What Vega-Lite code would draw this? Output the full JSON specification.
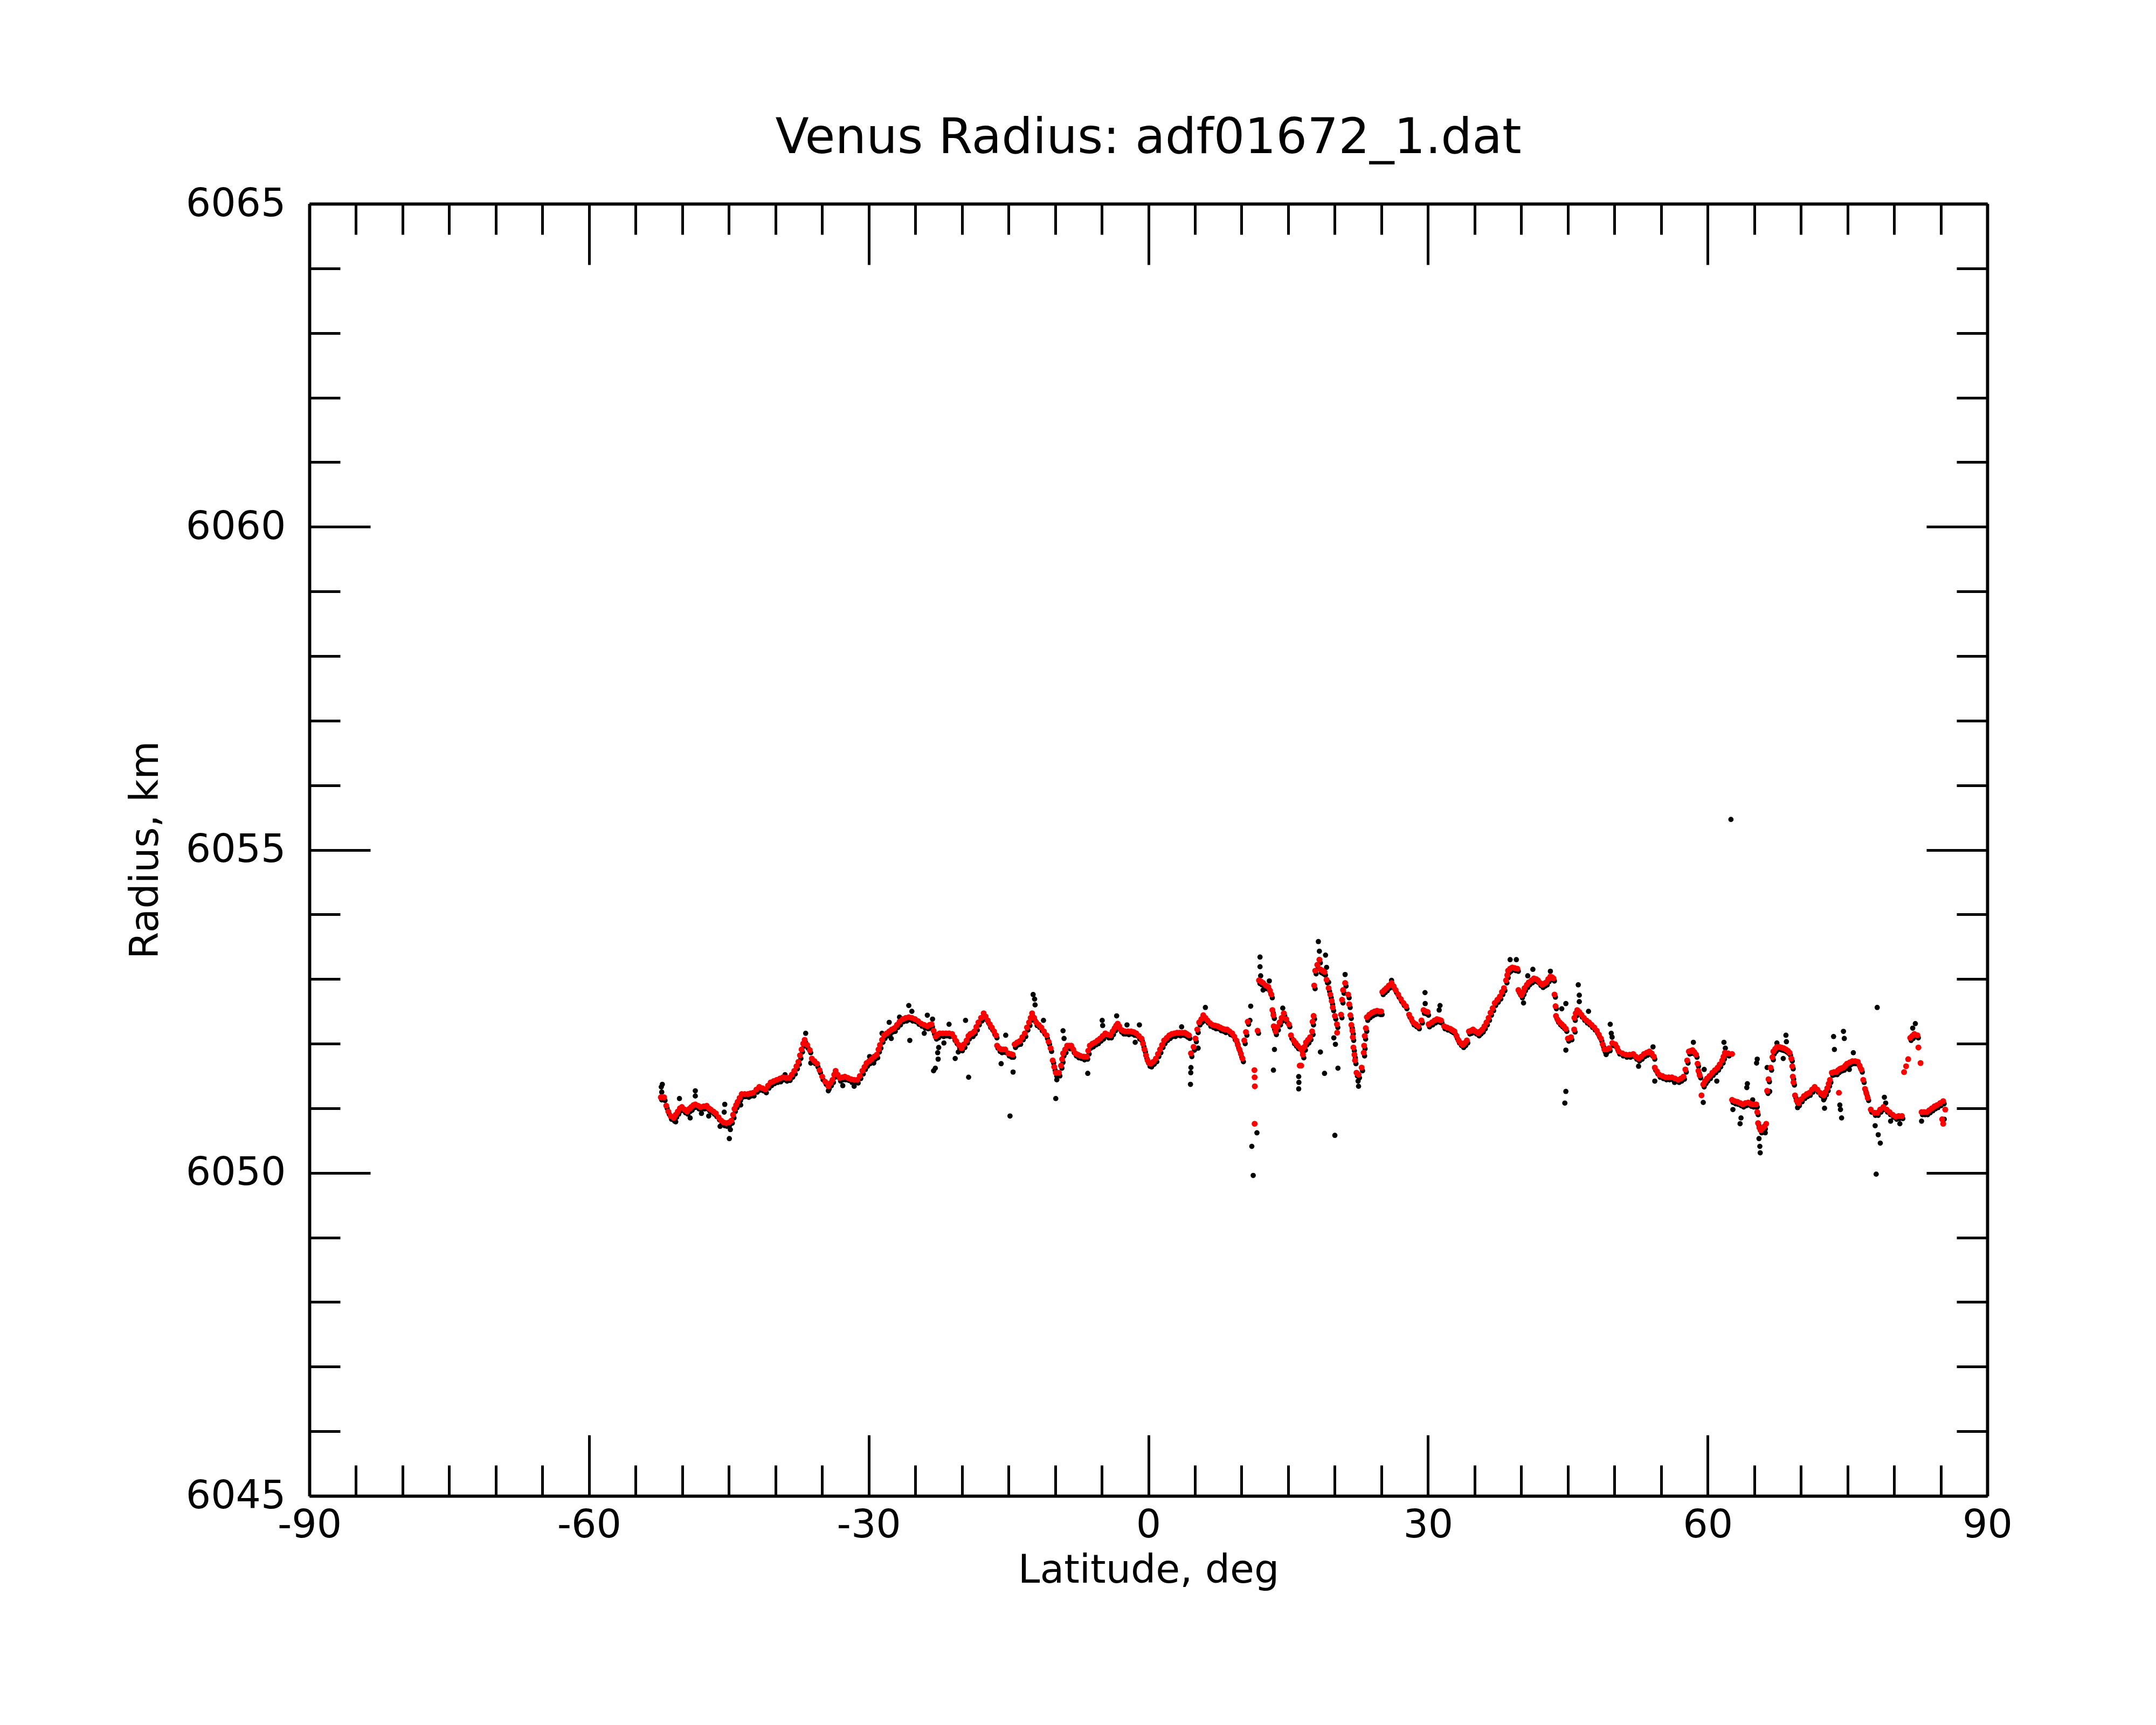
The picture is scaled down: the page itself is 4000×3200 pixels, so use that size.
{
  "$schema": "https://vega.github.io/schema/vega-lite/v6.json",
  "width": 3113,
  "height": 2397,
  "autosize": {"type": "none"},
  "padding": {"left": 574, "top": 378, "right": 313, "bottom": 425},
  "background": "white",
  "view": {"stroke": null},
  "title": {
    "text": "Venus Radius: adf01672_1.dat",
    "font": "DejaVu Sans",
    "fontSize": 91,
    "fontWeight": "normal",
    "color": "black",
    "anchor": "middle",
    "frame": "group",
    "baseline": "alphabetic",
    "offset": -33
  },
  "config": {
    "axis": {
      "grid": false,
      "domainColor": "black",
      "domainWidth": 5.5,
      "tickColor": "black",
      "tickWidth": 5,
      "labelFont": "DejaVu Sans",
      "labelFontSize": 73,
      "labelColor": "black",
      "labelLimit": 0,
      "labelOverlap": false,
      "labelFlush": false,
      "titleFont": "DejaVu Sans",
      "titleFontSize": 73,
      "titleFontWeight": "normal",
      "titleColor": "black"
    }
  },
  "datasets": {
    "smooth": [
      {"lat":-52.30,"radius":6051.17},{"lat":-51.95,"radius":6051.17},{"lat":-51.72,"radius":6051.04},{"lat":-51.50,"radius":6050.95},{"lat":-51.25,"radius":6050.88},{"lat":-50.92,"radius":6050.85},{"lat":-50.70,"radius":6050.90},{"lat":-50.48,"radius":6050.95},{"lat":-50.25,"radius":6051.00},{"lat":-50.04,"radius":6051.02},
      {"lat":-49.75,"radius":6050.98},{"lat":-49.49,"radius":6050.95},{"lat":-49.25,"radius":6050.99},{"lat":-49.04,"radius":6051.02},{"lat":-48.80,"radius":6051.05},{"lat":-48.60,"radius":6051.06},{"lat":-48.30,"radius":6051.04},{"lat":-48.05,"radius":6051.02},{"lat":-47.70,"radius":6051.03},{"lat":-47.38,"radius":6051.04},
      {"lat":-47.15,"radius":6051.00},{"lat":-46.94,"radius":6050.98},{"lat":-46.65,"radius":6050.95},{"lat":-46.39,"radius":6050.92},{"lat":-46.10,"radius":6050.86},{"lat":-45.83,"radius":6050.81},{"lat":-45.55,"radius":6050.78},{"lat":-45.28,"radius":6050.77},{"lat":-45.00,"radius":6050.78},{"lat":-44.73,"radius":6050.81},
      {"lat":-44.55,"radius":6050.90},{"lat":-44.40,"radius":6050.99},{"lat":-44.22,"radius":6051.05},{"lat":-44.06,"radius":6051.10},{"lat":-43.85,"radius":6051.16},{"lat":-43.62,"radius":6051.22},{"lat":-43.30,"radius":6051.22},{"lat":-42.96,"radius":6051.22},{"lat":-42.68,"radius":6051.23},{"lat":-42.40,"radius":6051.24},
      {"lat":-42.05,"radius":6051.29},{"lat":-41.74,"radius":6051.33},{"lat":-41.40,"radius":6051.31},{"lat":-41.08,"radius":6051.29},{"lat":-40.80,"radius":6051.35},{"lat":-40.52,"radius":6051.40},{"lat":-40.20,"radius":6051.42},{"lat":-39.86,"radius":6051.44},{"lat":-39.53,"radius":6051.46},{"lat":-39.20,"radius":6051.48},
      {"lat":-38.86,"radius":6051.47},{"lat":-38.53,"radius":6051.47},{"lat":-38.25,"radius":6051.52},{"lat":-37.98,"radius":6051.58},{"lat":-37.75,"radius":6051.65},{"lat":-37.54,"radius":6051.72},{"lat":-37.37,"radius":6051.82},{"lat":-37.20,"radius":6051.91},{"lat":-37.03,"radius":6052.00},{"lat":-36.87,"radius":6052.06},
      {"lat":-36.60,"radius":6051.98},{"lat":-36.32,"radius":6051.90},{"lat":-36.10,"radius":6051.77},{"lat":-35.82,"radius":6051.73},{"lat":-35.54,"radius":6051.69},{"lat":-35.27,"radius":6051.59},{"lat":-34.99,"radius":6051.49},{"lat":-34.66,"radius":6051.41},{"lat":-34.33,"radius":6051.34},{"lat":-34.10,"radius":6051.39},
      {"lat":-33.88,"radius":6051.44},{"lat":-33.70,"radius":6051.52},{"lat":-33.55,"radius":6051.58},{"lat":-33.33,"radius":6051.52},{"lat":-33.11,"radius":6051.47},{"lat":-32.83,"radius":6051.48},{"lat":-32.56,"radius":6051.49},{"lat":-32.22,"radius":6051.47},{"lat":-31.89,"radius":6051.45},{"lat":-31.56,"radius":6051.44},
      {"lat":-31.23,"radius":6051.44},{"lat":-30.95,"radius":6051.50},{"lat":-30.68,"radius":6051.58},{"lat":-30.45,"radius":6051.64},{"lat":-30.23,"radius":6051.70},{"lat":-29.95,"radius":6051.73},{"lat":-29.68,"radius":6051.76},{"lat":-29.40,"radius":6051.80},{"lat":-29.13,"radius":6051.83},{"lat":-28.95,"radius":6051.91},
      {"lat":-28.79,"radius":6051.98},{"lat":-28.57,"radius":6052.06},{"lat":-28.35,"radius":6052.13},{"lat":-28.07,"radius":6052.16},{"lat":-27.80,"radius":6052.19},{"lat":-27.52,"radius":6052.22},{"lat":-27.25,"radius":6052.24},{"lat":-26.97,"radius":6052.29},{"lat":-26.69,"radius":6052.34},{"lat":-26.35,"radius":6052.38},
      {"lat":-26.02,"radius":6052.40},{"lat":-25.70,"radius":6052.41},{"lat":-25.37,"radius":6052.40},{"lat":-25.03,"radius":6052.38},{"lat":-24.70,"radius":6052.35},{"lat":-24.37,"radius":6052.31},{"lat":-24.04,"radius":6052.29},{"lat":-23.71,"radius":6052.27},{"lat":-23.48,"radius":6052.29},{"lat":-23.26,"radius":6052.30},
      {"lat":-23.04,"radius":6052.20},{"lat":-22.82,"radius":6052.11},{"lat":-22.60,"radius":6052.14},{"lat":-22.38,"radius":6052.16},{"lat":-22.05,"radius":6052.16},{"lat":-21.71,"radius":6052.16},{"lat":-21.38,"radius":6052.16},{"lat":-21.05,"radius":6052.15},{"lat":-20.83,"radius":6052.10},{"lat":-20.61,"radius":6052.04},
      {"lat":-20.33,"radius":6051.98},{"lat":-20.05,"radius":6051.93},{"lat":-19.78,"radius":6051.99},{"lat":-19.50,"radius":6052.05},{"lat":-19.30,"radius":6052.12},{"lat":-19.10,"radius":6052.15},{"lat":-18.90,"radius":6052.16},{"lat":-18.67,"radius":6052.19},{"lat":-18.45,"radius":6052.26},{"lat":-18.23,"radius":6052.33},
      {"lat":-17.95,"radius":6052.40},{"lat":-17.67,"radius":6052.47},{"lat":-17.45,"radius":6052.42},{"lat":-17.23,"radius":6052.36},{"lat":-17.01,"radius":6052.30},{"lat":-16.79,"radius":6052.25},{"lat":-16.55,"radius":6052.19},{"lat":-16.34,"radius":6052.13},{"lat":-16.23,"radius":6051.97},{"lat":-16.00,"radius":6051.93},
      {"lat":-15.79,"radius":6051.91},{"lat":-15.57,"radius":6051.91},{"lat":-15.35,"radius":6051.91},{"lat":-15.02,"radius":6051.85},{"lat":-14.75,"radius":6051.84},{"lat":-14.55,"radius":6051.83},{"lat":-14.35,"radius":6051.99},{"lat":-14.07,"radius":6052.02},{"lat":-13.80,"radius":6052.04},{"lat":-13.52,"radius":6052.10},
      {"lat":-13.25,"radius":6052.16},{"lat":-13.02,"radius":6052.25},{"lat":-12.80,"radius":6052.33},{"lat":-12.63,"radius":6052.40},{"lat":-12.47,"radius":6052.47},{"lat":-12.25,"radius":6052.40},{"lat":-12.03,"radius":6052.33},{"lat":-11.75,"radius":6052.29},{"lat":-11.48,"radius":6052.25},{"lat":-11.20,"radius":6052.19},
      {"lat":-10.92,"radius":6052.13},{"lat":-10.70,"radius":6052.03},{"lat":-10.48,"radius":6051.93},{"lat":-10.26,"radius":6051.74},{"lat":-10.10,"radius":6051.64},{"lat":-9.93,"radius":6051.55},{"lat":-9.76,"radius":6051.55},{"lat":-9.59,"radius":6051.55},{"lat":-9.37,"radius":6051.66},{"lat":-9.25,"radius":6051.76},
      {"lat":-9.15,"radius":6051.85},{"lat":-8.93,"radius":6051.91},{"lat":-8.71,"radius":6051.97},{"lat":-8.49,"radius":6051.97},{"lat":-8.27,"radius":6051.97},{"lat":-8.05,"radius":6051.91},{"lat":-7.82,"radius":6051.85},{"lat":-7.55,"radius":6051.83},{"lat":-7.27,"radius":6051.81},{"lat":-6.94,"radius":6051.80},
      {"lat":-6.61,"radius":6051.80},{"lat":-6.45,"radius":6051.89},{"lat":-6.28,"radius":6051.97},{"lat":-6.00,"radius":6052.00},{"lat":-5.72,"radius":6052.02},{"lat":-5.45,"radius":6052.05},{"lat":-5.17,"radius":6052.08},{"lat":-4.90,"radius":6052.12},{"lat":-4.62,"radius":6052.16},{"lat":-4.34,"radius":6052.14},
      {"lat":-4.06,"radius":6052.13},{"lat":-3.84,"radius":6052.19},{"lat":-3.62,"radius":6052.24},{"lat":-3.45,"radius":6052.28},{"lat":-3.29,"radius":6052.31},{"lat":-3.12,"radius":6052.27},{"lat":-2.96,"radius":6052.22},{"lat":-2.73,"radius":6052.20},{"lat":-2.51,"radius":6052.19},{"lat":-2.18,"radius":6052.19},
      {"lat":-1.85,"radius":6052.19},{"lat":-1.57,"radius":6052.18},{"lat":-1.30,"radius":6052.16},{"lat":-1.02,"radius":6052.12},{"lat":-0.74,"radius":6052.08},{"lat":-0.57,"radius":6052.00},{"lat":-0.41,"radius":6051.91},{"lat":-0.25,"radius":6051.82},{"lat":-0.08,"radius":6051.74},{"lat":0.08,"radius":6051.70},
      {"lat":0.25,"radius":6051.69},{"lat":0.53,"radius":6051.72},{"lat":0.81,"radius":6051.77},{"lat":1.03,"radius":6051.84},{"lat":1.25,"radius":6051.91},{"lat":1.47,"radius":6051.98},{"lat":1.69,"radius":6052.05},{"lat":1.97,"radius":6052.09},{"lat":2.25,"radius":6052.13},{"lat":2.52,"radius":6052.15},
      {"lat":2.80,"radius":6052.16},{"lat":3.08,"radius":6052.17},{"lat":3.35,"radius":6052.17},{"lat":3.63,"radius":6052.17},{"lat":3.91,"radius":6052.17},{"lat":4.13,"radius":6052.15},{"lat":4.35,"radius":6052.13},{"lat":4.57,"radius":6051.85},{"lat":4.85,"radius":6051.95},{"lat":5.05,"radius":6052.08},
      {"lat":5.25,"radius":6052.22},{"lat":5.45,"radius":6052.33},{"lat":5.68,"radius":6052.38},{"lat":5.89,"radius":6052.44},{"lat":6.12,"radius":6052.40},{"lat":6.34,"radius":6052.36},{"lat":6.60,"radius":6052.32},{"lat":6.89,"radius":6052.29},{"lat":7.17,"radius":6052.28},{"lat":7.45,"radius":6052.27},
      {"lat":7.72,"radius":6052.25},{"lat":8.00,"radius":6052.23},{"lat":8.22,"radius":6052.22},{"lat":8.44,"radius":6052.22},{"lat":8.72,"radius":6052.19},{"lat":9.00,"radius":6052.16},{"lat":9.22,"radius":6052.11},{"lat":9.44,"radius":6052.05},{"lat":9.60,"radius":6051.98},{"lat":9.77,"radius":6051.91},
      {"lat":9.93,"radius":6051.84},{"lat":10.10,"radius":6051.77},{"lat":10.29,"radius":6052.05},{"lat":10.47,"radius":6052.18},{"lat":10.66,"radius":6052.34},{"lat":11.38,"radius":6051.59},{"lat":11.40,"radius":6051.48},{"lat":11.42,"radius":6051.34},{"lat":11.40,"radius":6050.76},{"lat":11.72,"radius":6052.20},
      {"lat":11.87,"radius":6052.98},{"lat":12.10,"radius":6052.96},{"lat":12.31,"radius":6052.94},{"lat":12.60,"radius":6052.90},{"lat":12.87,"radius":6052.88},{"lat":13.05,"radius":6052.82},{"lat":13.20,"radius":6052.76},{"lat":13.31,"radius":6052.52},{"lat":13.42,"radius":6052.44},{"lat":13.45,"radius":6052.27},
      {"lat":13.64,"radius":6052.19},{"lat":13.85,"radius":6052.26},{"lat":14.08,"radius":6052.33},{"lat":14.30,"radius":6052.40},{"lat":14.53,"radius":6052.47},{"lat":14.80,"radius":6052.38},{"lat":15.08,"radius":6052.30},{"lat":15.30,"radius":6052.13},{"lat":15.58,"radius":6052.05},{"lat":15.80,"radius":6052.01},
      {"lat":16.02,"radius":6051.97},{"lat":16.24,"radius":6051.66},{"lat":16.40,"radius":6051.66},{"lat":16.30,"radius":6051.93},{"lat":16.47,"radius":6051.90},{"lat":16.58,"radius":6051.83},{"lat":16.75,"radius":6051.95},{"lat":16.91,"radius":6052.02},{"lat":17.13,"radius":6052.06},{"lat":17.35,"radius":6052.10},
      {"lat":17.57,"radius":6052.19},{"lat":17.62,"radius":6052.34},{"lat":17.73,"radius":6052.43},{"lat":17.79,"radius":6052.90},{"lat":17.90,"radius":6053.13},{"lat":18.12,"radius":6053.22},{"lat":18.35,"radius":6053.30},{"lat":18.46,"radius":6053.15},{"lat":18.68,"radius":6053.13},{"lat":18.90,"radius":6053.11},
      {"lat":19.12,"radius":6052.99},{"lat":19.34,"radius":6052.86},{"lat":19.52,"radius":6052.76},{"lat":19.67,"radius":6052.66},{"lat":19.78,"radius":6052.56},{"lat":20.01,"radius":6052.43},{"lat":20.23,"radius":6052.30},{"lat":20.25,"radius":6052.17},{"lat":20.67,"radius":6052.45},{"lat":20.78,"radius":6052.68},
      {"lat":20.89,"radius":6052.83},{"lat":21.11,"radius":6052.94},{"lat":21.44,"radius":6052.76},{"lat":21.55,"radius":6052.61},{"lat":21.67,"radius":6052.44},{"lat":21.78,"radius":6052.29},{"lat":21.89,"radius":6052.20},{"lat":21.93,"radius":6052.10},{"lat":22.00,"radius":6051.94},{"lat":22.11,"radius":6051.83},
      {"lat":22.17,"radius":6051.74},{"lat":22.33,"radius":6051.55},{"lat":22.55,"radius":6051.52},{"lat":22.88,"radius":6051.63},{"lat":23.10,"radius":6051.86},{"lat":23.15,"radius":6051.97},{"lat":23.21,"radius":6052.12},{"lat":23.33,"radius":6052.24},{"lat":23.44,"radius":6052.41},{"lat":23.70,"radius":6052.45},
      {"lat":23.99,"radius":6052.48},{"lat":24.27,"radius":6052.50},{"lat":24.54,"radius":6052.51},{"lat":24.80,"radius":6052.50},{"lat":24.98,"radius":6052.50},{"lat":25.10,"radius":6052.80},{"lat":25.32,"radius":6052.83},{"lat":25.54,"radius":6052.86},{"lat":25.80,"radius":6052.90},{"lat":26.09,"radius":6052.94},
      {"lat":26.31,"radius":6052.89},{"lat":26.53,"radius":6052.83},{"lat":26.80,"radius":6052.76},{"lat":27.09,"radius":6052.69},{"lat":27.36,"radius":6052.63},{"lat":27.64,"radius":6052.58},{"lat":27.97,"radius":6052.45},{"lat":28.20,"radius":6052.39},{"lat":28.41,"radius":6052.33},{"lat":28.70,"radius":6052.30},
      {"lat":28.97,"radius":6052.27},{"lat":29.30,"radius":6052.36},{"lat":29.52,"radius":6052.52},{"lat":29.75,"radius":6052.50},{"lat":29.96,"radius":6052.49},{"lat":30.07,"radius":6052.30},{"lat":30.41,"radius":6052.33},{"lat":30.70,"radius":6052.36},{"lat":30.96,"radius":6052.38},{"lat":31.20,"radius":6052.37},
      {"lat":31.40,"radius":6052.36},{"lat":31.73,"radius":6052.27},{"lat":32.05,"radius":6052.25},{"lat":32.40,"radius":6052.23},{"lat":32.62,"radius":6052.21},{"lat":32.84,"radius":6052.19},{"lat":33.06,"radius":6052.12},{"lat":33.28,"radius":6052.05},{"lat":33.50,"radius":6052.01},{"lat":33.73,"radius":6051.98},
      {"lat":33.95,"radius":6052.01},{"lat":34.17,"radius":6052.05},{"lat":34.39,"radius":6052.19},{"lat":34.60,"radius":6052.20},{"lat":34.83,"radius":6052.22},{"lat":35.10,"radius":6052.19},{"lat":35.39,"radius":6052.16},{"lat":35.60,"radius":6052.19},{"lat":35.83,"radius":6052.22},{"lat":36.05,"radius":6052.27},
      {"lat":36.27,"radius":6052.33},{"lat":36.50,"radius":6052.40},{"lat":36.71,"radius":6052.48},{"lat":36.94,"radius":6052.55},{"lat":37.16,"radius":6052.63},{"lat":37.44,"radius":6052.68},{"lat":37.71,"radius":6052.73},{"lat":37.93,"radius":6052.80},{"lat":38.15,"radius":6052.86},{"lat":38.37,"radius":6052.98},
      {"lat":38.50,"radius":6053.06},{"lat":38.59,"radius":6053.13},{"lat":38.80,"radius":6053.16},{"lat":39.04,"radius":6053.18},{"lat":39.30,"radius":6053.17},{"lat":39.59,"radius":6053.16},{"lat":39.70,"radius":6052.83},{"lat":39.85,"radius":6052.79},{"lat":40.03,"radius":6052.75},{"lat":40.20,"radius":6052.80},
      {"lat":40.36,"radius":6052.86},{"lat":40.60,"radius":6052.91},{"lat":40.81,"radius":6052.95},{"lat":41.10,"radius":6052.98},{"lat":41.36,"radius":6053.01},{"lat":41.60,"radius":6053.00},{"lat":41.80,"radius":6052.98},{"lat":42.02,"radius":6052.94},{"lat":42.25,"radius":6052.91},{"lat":42.47,"radius":6052.93},
      {"lat":42.69,"radius":6052.95},{"lat":42.90,"radius":6053.00},{"lat":43.13,"radius":6053.04},{"lat":43.30,"radius":6053.03},{"lat":43.46,"radius":6053.01},{"lat":43.57,"radius":6052.76},{"lat":43.68,"radius":6052.58},{"lat":43.73,"radius":6052.43},{"lat":43.91,"radius":6052.37},{"lat":44.13,"radius":6052.33},
      {"lat":44.35,"radius":6052.30},{"lat":44.57,"radius":6052.27},{"lat":44.79,"radius":6052.23},{"lat":45.01,"radius":6052.08},{"lat":45.34,"radius":6052.10},{"lat":45.68,"radius":6052.22},{"lat":45.70,"radius":6052.40},{"lat":45.85,"radius":6052.47},{"lat":46.01,"radius":6052.52},{"lat":46.23,"radius":6052.49},
      {"lat":46.45,"radius":6052.45},{"lat":46.72,"radius":6052.40},{"lat":47.00,"radius":6052.36},{"lat":47.28,"radius":6052.33},{"lat":47.56,"radius":6052.29},{"lat":47.84,"radius":6052.25},{"lat":48.11,"radius":6052.20},{"lat":48.33,"radius":6052.14},{"lat":48.55,"radius":6052.08},{"lat":48.74,"radius":6051.99},
      {"lat":48.92,"radius":6051.91},{"lat":49.15,"radius":6051.91},{"lat":49.44,"radius":6051.93},{"lat":49.77,"radius":6052.01},{"lat":50.09,"radius":6051.99},{"lat":50.28,"radius":6051.94},{"lat":50.47,"radius":6051.88},{"lat":50.85,"radius":6051.85},{"lat":51.24,"radius":6051.83},{"lat":51.63,"radius":6051.83},
      {"lat":52.02,"radius":6051.84},{"lat":52.30,"radius":6051.80},{"lat":52.59,"radius":6051.77},{"lat":52.88,"radius":6051.80},{"lat":53.17,"radius":6051.84},{"lat":53.46,"radius":6051.86},{"lat":53.75,"radius":6051.88},{"lat":54.00,"radius":6051.85},{"lat":54.23,"radius":6051.80},{"lat":54.33,"radius":6051.63},
      {"lat":54.57,"radius":6051.57},{"lat":54.81,"radius":6051.52},{"lat":55.15,"radius":6051.50},{"lat":55.49,"radius":6051.48},{"lat":55.82,"radius":6051.48},{"lat":56.16,"radius":6051.48},{"lat":56.50,"radius":6051.46},{"lat":56.84,"radius":6051.44},{"lat":57.12,"radius":6051.46},{"lat":57.41,"radius":6051.49},
      {"lat":57.61,"radius":6051.60},{"lat":57.80,"radius":6051.74},{"lat":57.99,"radius":6051.88},{"lat":58.20,"radius":6051.89},{"lat":58.38,"radius":6051.90},{"lat":58.57,"radius":6051.87},{"lat":58.76,"radius":6051.83},{"lat":58.92,"radius":6051.69},{"lat":59.01,"radius":6051.58},{"lat":59.15,"radius":6051.51},
      {"lat":59.34,"radius":6051.20},{"lat":59.53,"radius":6051.37},{"lat":59.72,"radius":6051.42},{"lat":59.92,"radius":6051.46},{"lat":60.20,"radius":6051.50},{"lat":60.50,"radius":6051.55},{"lat":60.78,"radius":6051.59},{"lat":61.07,"radius":6051.63},{"lat":61.30,"radius":6051.68},{"lat":61.56,"radius":6051.74},
      {"lat":61.70,"radius":6051.80},{"lat":61.85,"radius":6051.86},{"lat":62.20,"radius":6051.85},{"lat":62.62,"radius":6051.84},{"lat":62.62,"radius":6051.13},{"lat":62.90,"radius":6051.11},{"lat":63.20,"radius":6051.10},{"lat":63.50,"radius":6051.08},{"lat":63.77,"radius":6051.06},{"lat":64.05,"radius":6051.08},
      {"lat":64.35,"radius":6051.09},{"lat":64.60,"radius":6051.07},{"lat":64.83,"radius":6051.06},{"lat":65.05,"radius":6051.06},{"lat":65.22,"radius":6051.06},{"lat":65.32,"radius":6050.94},{"lat":65.41,"radius":6050.77},{"lat":65.55,"radius":6050.70},{"lat":65.70,"radius":6050.66},{"lat":65.90,"radius":6050.69},
      {"lat":66.09,"radius":6050.72},{"lat":66.28,"radius":6050.76},{"lat":66.38,"radius":6051.27},{"lat":66.53,"radius":6051.45},{"lat":66.76,"radius":6051.63},{"lat":66.95,"radius":6051.79},{"lat":67.05,"radius":6051.88},{"lat":67.25,"radius":6051.92},{"lat":67.43,"radius":6051.95},{"lat":67.68,"radius":6051.95},
      {"lat":67.92,"radius":6051.94},{"lat":68.16,"radius":6051.93},{"lat":68.40,"radius":6051.91},{"lat":68.60,"radius":6051.89},{"lat":68.79,"radius":6051.86},{"lat":68.98,"radius":6051.77},{"lat":69.08,"radius":6051.65},{"lat":69.13,"radius":6051.49},{"lat":69.21,"radius":6051.40},{"lat":69.37,"radius":6051.20},
      {"lat":69.55,"radius":6051.12},{"lat":69.75,"radius":6051.08},{"lat":70.04,"radius":6051.14},{"lat":70.33,"radius":6051.19},{"lat":70.62,"radius":6051.22},{"lat":70.91,"radius":6051.24},{"lat":71.20,"radius":6051.29},{"lat":71.48,"radius":6051.33},{"lat":71.77,"radius":6051.29},{"lat":72.06,"radius":6051.24},
      {"lat":72.25,"radius":6051.22},{"lat":72.45,"radius":6051.20},{"lat":72.64,"radius":6051.25},{"lat":72.83,"radius":6051.31},{"lat":72.98,"radius":6051.38},{"lat":73.12,"radius":6051.44},{"lat":73.32,"radius":6051.55},{"lat":73.56,"radius":6051.56},{"lat":73.80,"radius":6051.56},{"lat":74.00,"radius":6051.59},
      {"lat":74.18,"radius":6051.61},{"lat":74.37,"radius":6051.62},{"lat":74.57,"radius":6051.63},{"lat":74.76,"radius":6051.66},{"lat":74.95,"radius":6051.69},{"lat":75.24,"radius":6051.71},{"lat":75.53,"radius":6051.73},{"lat":75.82,"radius":6051.73},{"lat":76.11,"radius":6051.72},{"lat":76.30,"radius":6051.66},
      {"lat":76.49,"radius":6051.60},{"lat":76.69,"radius":6051.44},{"lat":76.88,"radius":6051.30},{"lat":77.03,"radius":6051.23},{"lat":77.17,"radius":6051.16},{"lat":74.08,"radius":6051.24},{"lat":77.50,"radius":6050.98},{"lat":77.90,"radius":6050.93},{"lat":78.20,"radius":6050.93},{"lat":78.50,"radius":6050.98},
      {"lat":78.85,"radius":6051.02},{"lat":79.20,"radius":6050.98},{"lat":79.52,"radius":6050.94},{"lat":79.85,"radius":6050.90},{"lat":80.18,"radius":6050.87},{"lat":80.50,"radius":6050.88},{"lat":80.84,"radius":6050.88},{"lat":81.07,"radius":6051.56},{"lat":81.29,"radius":6051.65},{"lat":81.51,"radius":6051.76},
      {"lat":81.73,"radius":6052.09},{"lat":81.95,"radius":6052.12},{"lat":82.17,"radius":6052.15},{"lat":82.50,"radius":6052.13},{"lat":82.61,"radius":6051.94},{"lat":82.84,"radius":6051.70},{"lat":82.95,"radius":6050.94},{"lat":83.22,"radius":6050.94},{"lat":83.50,"radius":6050.94},{"lat":83.78,"radius":6050.97},
      {"lat":84.05,"radius":6051.00},{"lat":84.33,"radius":6051.03},{"lat":84.61,"radius":6051.05},{"lat":84.94,"radius":6051.08},{"lat":85.27,"radius":6051.11},{"lat":85.49,"radius":6050.98},{"lat":85.16,"radius":6050.83},{"lat":85.27,"radius":6050.76}
    ],
    "raw": [
      {"lat":-52.20,"radius":6051.13},{"lat":-51.85,"radius":6051.12},{"lat":-51.62,"radius":6051.00},{"lat":-51.40,"radius":6050.91},{"lat":-51.15,"radius":6050.83},{"lat":-50.82,"radius":6050.80},{"lat":-50.60,"radius":6050.86},{"lat":-50.38,"radius":6050.91},{"lat":-50.15,"radius":6050.96},{"lat":-49.94,"radius":6050.97},
      {"lat":-49.65,"radius":6050.93},{"lat":-49.39,"radius":6050.91},{"lat":-49.15,"radius":6050.95},{"lat":-48.94,"radius":6050.97},{"lat":-48.70,"radius":6051.01},{"lat":-48.50,"radius":6051.02},{"lat":-48.20,"radius":6050.99},{"lat":-47.95,"radius":6050.98},{"lat":-47.60,"radius":6050.99},{"lat":-47.28,"radius":6050.99},
      {"lat":-47.05,"radius":6050.96},{"lat":-46.84,"radius":6050.94},{"lat":-46.55,"radius":6050.91},{"lat":-46.29,"radius":6050.87},{"lat":-46.00,"radius":6050.82},{"lat":-45.73,"radius":6050.76},{"lat":-45.45,"radius":6050.73},{"lat":-45.18,"radius":6050.72},{"lat":-44.90,"radius":6050.74},{"lat":-44.63,"radius":6050.77},
      {"lat":-44.45,"radius":6050.85},{"lat":-44.30,"radius":6050.95},{"lat":-44.12,"radius":6051.01},{"lat":-43.96,"radius":6051.05},{"lat":-43.75,"radius":6051.12},{"lat":-43.52,"radius":6051.17},{"lat":-43.20,"radius":6051.18},{"lat":-42.86,"radius":6051.17},{"lat":-42.58,"radius":6051.19},{"lat":-42.30,"radius":6051.19},
      {"lat":-41.95,"radius":6051.25},{"lat":-41.64,"radius":6051.28},{"lat":-41.30,"radius":6051.27},{"lat":-40.98,"radius":6051.24},{"lat":-40.70,"radius":6051.31},{"lat":-40.42,"radius":6051.35},{"lat":-40.10,"radius":6051.38},{"lat":-39.76,"radius":6051.40},{"lat":-39.43,"radius":6051.41},{"lat":-39.10,"radius":6051.44},
      {"lat":-38.76,"radius":6051.42},{"lat":-38.43,"radius":6051.43},{"lat":-38.15,"radius":6051.48},{"lat":-37.88,"radius":6051.53},{"lat":-37.65,"radius":6051.61},{"lat":-37.44,"radius":6051.68},{"lat":-37.27,"radius":6051.77},{"lat":-37.10,"radius":6051.87},{"lat":-36.93,"radius":6051.96},{"lat":-36.77,"radius":6052.02},
      {"lat":-36.50,"radius":6051.93},{"lat":-36.22,"radius":6051.86},{"lat":-36.00,"radius":6051.72},{"lat":-35.72,"radius":6051.69},{"lat":-35.44,"radius":6051.64},{"lat":-35.17,"radius":6051.55},{"lat":-34.89,"radius":6051.44},{"lat":-34.56,"radius":6051.37},{"lat":-34.23,"radius":6051.30},{"lat":-34.00,"radius":6051.35},
      {"lat":-33.78,"radius":6051.40},{"lat":-33.60,"radius":6051.48},{"lat":-33.45,"radius":6051.53},{"lat":-33.23,"radius":6051.48},{"lat":-33.01,"radius":6051.42},{"lat":-32.73,"radius":6051.44},{"lat":-32.46,"radius":6051.44},{"lat":-32.12,"radius":6051.43},{"lat":-31.79,"radius":6051.40},{"lat":-31.46,"radius":6051.40},
      {"lat":-31.13,"radius":6051.39},{"lat":-30.85,"radius":6051.46},{"lat":-30.58,"radius":6051.53},{"lat":-30.35,"radius":6051.60},{"lat":-30.13,"radius":6051.65},{"lat":-29.85,"radius":6051.69},{"lat":-29.58,"radius":6051.71},{"lat":-29.30,"radius":6051.76},{"lat":-29.03,"radius":6051.78},{"lat":-28.85,"radius":6051.87},
      {"lat":-28.69,"radius":6051.93},{"lat":-28.47,"radius":6052.02},{"lat":-28.25,"radius":6052.08},{"lat":-27.97,"radius":6052.12},{"lat":-27.70,"radius":6052.14},{"lat":-27.42,"radius":6052.18},{"lat":-27.15,"radius":6052.19},{"lat":-26.87,"radius":6052.25},{"lat":-26.59,"radius":6052.29},{"lat":-26.25,"radius":6052.34},
      {"lat":-25.92,"radius":6052.35},{"lat":-25.60,"radius":6052.37},{"lat":-25.27,"radius":6052.35},{"lat":-24.93,"radius":6052.34},{"lat":-24.60,"radius":6052.30},{"lat":-24.27,"radius":6052.27},{"lat":-23.94,"radius":6052.24},{"lat":-23.61,"radius":6052.23},{"lat":-23.38,"radius":6052.24},{"lat":-23.16,"radius":6052.26},
      {"lat":-22.94,"radius":6052.15},{"lat":-22.72,"radius":6052.07},{"lat":-22.50,"radius":6052.09},{"lat":-22.28,"radius":6052.12},{"lat":-21.95,"radius":6052.11},{"lat":-21.61,"radius":6052.12},{"lat":-21.28,"radius":6052.11},{"lat":-20.95,"radius":6052.11},{"lat":-20.73,"radius":6052.05},{"lat":-20.51,"radius":6052.00},
      {"lat":-20.23,"radius":6051.93},{"lat":-19.95,"radius":6051.89},{"lat":-19.68,"radius":6051.94},{"lat":-19.40,"radius":6052.01},{"lat":-19.20,"radius":6052.07},{"lat":-19.00,"radius":6052.11},{"lat":-18.80,"radius":6052.11},{"lat":-18.57,"radius":6052.15},{"lat":-18.35,"radius":6052.21},{"lat":-18.13,"radius":6052.29},
      {"lat":-17.85,"radius":6052.35},{"lat":-17.57,"radius":6052.43},{"lat":-17.35,"radius":6052.37},{"lat":-17.13,"radius":6052.32},{"lat":-16.91,"radius":6052.25},{"lat":-16.69,"radius":6052.21},{"lat":-16.45,"radius":6052.14},{"lat":-16.24,"radius":6052.09},{"lat":-16.13,"radius":6051.93},{"lat":-15.90,"radius":6051.88},
      {"lat":-15.69,"radius":6051.86},{"lat":-15.47,"radius":6051.87},{"lat":-15.25,"radius":6051.86},{"lat":-14.92,"radius":6051.81},{"lat":-14.65,"radius":6051.79},{"lat":-14.45,"radius":6051.79},{"lat":-14.25,"radius":6051.94},{"lat":-13.97,"radius":6051.98},{"lat":-13.70,"radius":6051.99},{"lat":-13.42,"radius":6052.06},
      {"lat":-13.15,"radius":6052.11},{"lat":-12.92,"radius":6052.21},{"lat":-12.70,"radius":6052.28},{"lat":-12.53,"radius":6052.36},{"lat":-12.37,"radius":6052.42},{"lat":-12.15,"radius":6052.36},{"lat":-11.93,"radius":6052.28},{"lat":-11.65,"radius":6052.25},{"lat":-11.38,"radius":6052.20},{"lat":-11.10,"radius":6052.15},
      {"lat":-10.82,"radius":6052.08},{"lat":-10.60,"radius":6051.99},{"lat":-10.38,"radius":6051.88},{"lat":-10.16,"radius":6051.70},{"lat":-10.00,"radius":6051.59},{"lat":-9.83,"radius":6051.50},{"lat":-9.66,"radius":6051.51},{"lat":-9.49,"radius":6051.50},{"lat":-9.27,"radius":6051.62},{"lat":-9.15,"radius":6051.71},
      {"lat":-9.05,"radius":6051.81},{"lat":-8.83,"radius":6051.86},{"lat":-8.61,"radius":6051.93},{"lat":-8.39,"radius":6051.92},{"lat":-8.17,"radius":6051.93},{"lat":-7.95,"radius":6051.86},{"lat":-7.72,"radius":6051.81},{"lat":-7.45,"radius":6051.78},{"lat":-7.17,"radius":6051.77},{"lat":-6.84,"radius":6051.75},
      {"lat":-6.51,"radius":6051.76},{"lat":-6.35,"radius":6051.84},{"lat":-6.18,"radius":6051.93},{"lat":-5.90,"radius":6051.95},{"lat":-5.62,"radius":6051.98},{"lat":-5.35,"radius":6052.00},{"lat":-5.07,"radius":6052.04},{"lat":-4.80,"radius":6052.07},{"lat":-4.52,"radius":6052.12},{"lat":-4.24,"radius":6052.09},
      {"lat":-3.96,"radius":6052.09},{"lat":-3.74,"radius":6052.14},{"lat":-3.52,"radius":6052.20},{"lat":-3.35,"radius":6052.23},{"lat":-3.19,"radius":6052.27},{"lat":-3.02,"radius":6052.22},{"lat":-2.86,"radius":6052.18},{"lat":-2.63,"radius":6052.15},{"lat":-2.41,"radius":6052.15},{"lat":-2.08,"radius":6052.14},
      {"lat":-1.75,"radius":6052.15},{"lat":-1.47,"radius":6052.13},{"lat":-1.20,"radius":6052.12},{"lat":-0.92,"radius":6052.07},{"lat":-0.64,"radius":6052.04},{"lat":-0.47,"radius":6051.95},{"lat":-0.31,"radius":6051.87},{"lat":-0.15,"radius":6051.77},{"lat":0.02,"radius":6051.70},{"lat":0.18,"radius":6051.65},
      {"lat":0.35,"radius":6051.64},{"lat":0.63,"radius":6051.68},{"lat":0.91,"radius":6051.72},{"lat":1.13,"radius":6051.80},{"lat":1.35,"radius":6051.86},{"lat":1.57,"radius":6051.94},{"lat":1.79,"radius":6052.00},{"lat":2.07,"radius":6052.05},{"lat":2.35,"radius":6052.08},{"lat":2.62,"radius":6052.11},
      {"lat":2.90,"radius":6052.11},{"lat":3.18,"radius":6052.13},{"lat":3.45,"radius":6052.12},{"lat":3.73,"radius":6052.13},{"lat":4.01,"radius":6052.12},{"lat":4.23,"radius":6052.10},{"lat":4.45,"radius":6052.08},{"lat":4.67,"radius":6051.80},{"lat":4.95,"radius":6051.90},{"lat":5.15,"radius":6052.03},
      {"lat":5.35,"radius":6052.17},{"lat":5.55,"radius":6052.29},{"lat":5.78,"radius":6052.33},{"lat":5.99,"radius":6052.40},{"lat":6.22,"radius":6052.35},{"lat":6.44,"radius":6052.32},{"lat":6.70,"radius":6052.27},{"lat":6.99,"radius":6052.25},{"lat":7.27,"radius":6052.23},{"lat":7.55,"radius":6052.23},
      {"lat":7.82,"radius":6052.20},{"lat":8.10,"radius":6052.19},{"lat":8.32,"radius":6052.17},{"lat":8.54,"radius":6052.18},{"lat":8.82,"radius":6052.14},{"lat":9.10,"radius":6052.12},{"lat":9.32,"radius":6052.06},{"lat":9.54,"radius":6052.01},{"lat":9.70,"radius":6051.93},{"lat":9.87,"radius":6051.87},
      {"lat":10.03,"radius":6051.79},{"lat":10.20,"radius":6051.72},{"lat":10.39,"radius":6052.00},{"lat":10.57,"radius":6052.13},{"lat":10.76,"radius":6052.30},{"lat":11.82,"radius":6052.16},{"lat":11.97,"radius":6052.93},{"lat":12.20,"radius":6052.91},{"lat":12.41,"radius":6052.90},{"lat":12.70,"radius":6052.85},
      {"lat":12.97,"radius":6052.84},{"lat":13.15,"radius":6052.77},{"lat":13.30,"radius":6052.71},{"lat":13.41,"radius":6052.47},{"lat":13.52,"radius":6052.39},{"lat":13.55,"radius":6052.22},{"lat":13.74,"radius":6052.14},{"lat":13.95,"radius":6052.21},{"lat":14.18,"radius":6052.29},{"lat":14.40,"radius":6052.35},
      {"lat":14.63,"radius":6052.43},{"lat":14.90,"radius":6052.33},{"lat":15.18,"radius":6052.26},{"lat":15.40,"radius":6052.08},{"lat":15.68,"radius":6052.00},{"lat":15.90,"radius":6051.96},{"lat":16.12,"radius":6051.92},{"lat":16.57,"radius":6051.86},{"lat":16.68,"radius":6051.78},{"lat":16.85,"radius":6051.90},
      {"lat":17.01,"radius":6051.98},{"lat":17.23,"radius":6052.01},{"lat":17.45,"radius":6052.06},{"lat":17.67,"radius":6052.14},{"lat":17.72,"radius":6052.29},{"lat":17.83,"radius":6052.38},{"lat":17.89,"radius":6052.85},{"lat":18.00,"radius":6053.08},{"lat":18.22,"radius":6053.17},{"lat":18.45,"radius":6053.25},
      {"lat":18.56,"radius":6053.10},{"lat":18.78,"radius":6053.08},{"lat":19.00,"radius":6053.06},{"lat":19.22,"radius":6052.94},{"lat":19.44,"radius":6052.81},{"lat":19.62,"radius":6052.71},{"lat":19.77,"radius":6052.61},{"lat":19.88,"radius":6052.51},{"lat":20.11,"radius":6052.38},{"lat":20.33,"radius":6052.25},
      {"lat":20.77,"radius":6052.40},{"lat":20.88,"radius":6052.63},{"lat":20.99,"radius":6052.78},{"lat":21.21,"radius":6052.89},{"lat":21.54,"radius":6052.71},{"lat":21.65,"radius":6052.56},{"lat":21.77,"radius":6052.39},{"lat":21.88,"radius":6052.24},{"lat":21.99,"radius":6052.15},{"lat":22.03,"radius":6052.05},
      {"lat":22.10,"radius":6051.89},{"lat":22.21,"radius":6051.78},{"lat":22.27,"radius":6051.69},{"lat":22.43,"radius":6051.50},{"lat":22.65,"radius":6051.47},{"lat":22.98,"radius":6051.58},{"lat":23.20,"radius":6051.81},{"lat":23.25,"radius":6051.92},{"lat":23.31,"radius":6052.07},{"lat":23.43,"radius":6052.19},
      {"lat":23.54,"radius":6052.36},{"lat":23.80,"radius":6052.40},{"lat":24.09,"radius":6052.43},{"lat":24.37,"radius":6052.45},{"lat":24.64,"radius":6052.46},{"lat":24.90,"radius":6052.45},{"lat":25.08,"radius":6052.45},{"lat":25.20,"radius":6052.76},{"lat":25.42,"radius":6052.79},{"lat":25.64,"radius":6052.82},
      {"lat":25.90,"radius":6052.86},{"lat":26.19,"radius":6052.90},{"lat":26.41,"radius":6052.85},{"lat":26.63,"radius":6052.79},{"lat":26.90,"radius":6052.72},{"lat":27.19,"radius":6052.65},{"lat":27.46,"radius":6052.59},{"lat":27.74,"radius":6052.54},{"lat":28.07,"radius":6052.41},{"lat":28.30,"radius":6052.35},
      {"lat":28.51,"radius":6052.29},{"lat":28.80,"radius":6052.26},{"lat":29.07,"radius":6052.23},{"lat":29.40,"radius":6052.32},{"lat":29.62,"radius":6052.47},{"lat":29.85,"radius":6052.46},{"lat":30.06,"radius":6052.44},{"lat":30.17,"radius":6052.26},{"lat":30.51,"radius":6052.29},{"lat":30.80,"radius":6052.32},
      {"lat":31.06,"radius":6052.34},{"lat":31.30,"radius":6052.33},{"lat":31.50,"radius":6052.32},{"lat":31.83,"radius":6052.23},{"lat":32.15,"radius":6052.21},{"lat":32.50,"radius":6052.19},{"lat":32.72,"radius":6052.17},{"lat":32.94,"radius":6052.15},{"lat":33.16,"radius":6052.08},{"lat":33.38,"radius":6052.01},
      {"lat":33.60,"radius":6051.97},{"lat":33.83,"radius":6051.94},{"lat":34.05,"radius":6051.97},{"lat":34.27,"radius":6052.01},{"lat":34.49,"radius":6052.15},{"lat":34.70,"radius":6052.16},{"lat":34.93,"radius":6052.18},{"lat":35.20,"radius":6052.15},{"lat":35.49,"radius":6052.12},{"lat":35.70,"radius":6052.15},
      {"lat":35.93,"radius":6052.18},{"lat":36.15,"radius":6052.23},{"lat":36.37,"radius":6052.29},{"lat":36.60,"radius":6052.36},{"lat":36.81,"radius":6052.44},{"lat":37.04,"radius":6052.51},{"lat":37.26,"radius":6052.59},{"lat":37.54,"radius":6052.64},{"lat":37.81,"radius":6052.69},{"lat":38.03,"radius":6052.76},
      {"lat":38.25,"radius":6052.82},{"lat":38.47,"radius":6052.94},{"lat":38.60,"radius":6053.02},{"lat":38.69,"radius":6053.09},{"lat":38.90,"radius":6053.12},{"lat":39.14,"radius":6053.14},{"lat":39.40,"radius":6053.13},{"lat":39.69,"radius":6053.12},{"lat":39.80,"radius":6052.79},{"lat":39.95,"radius":6052.75},
      {"lat":40.13,"radius":6052.71},{"lat":40.30,"radius":6052.76},{"lat":40.46,"radius":6052.82},{"lat":40.70,"radius":6052.87},{"lat":40.91,"radius":6052.91},{"lat":41.20,"radius":6052.94},{"lat":41.46,"radius":6052.97},{"lat":41.70,"radius":6052.96},{"lat":41.90,"radius":6052.94},{"lat":42.12,"radius":6052.90},
      {"lat":42.35,"radius":6052.87},{"lat":42.57,"radius":6052.89},{"lat":42.79,"radius":6052.91},{"lat":43.00,"radius":6052.96},{"lat":43.23,"radius":6053.00},{"lat":43.40,"radius":6052.99},{"lat":43.56,"radius":6052.97},{"lat":43.67,"radius":6052.72},{"lat":43.78,"radius":6052.54},{"lat":43.83,"radius":6052.39},
      {"lat":44.01,"radius":6052.33},{"lat":44.23,"radius":6052.29},{"lat":44.45,"radius":6052.26},{"lat":44.67,"radius":6052.23},{"lat":44.89,"radius":6052.19},{"lat":45.11,"radius":6052.04},{"lat":45.44,"radius":6052.06},{"lat":45.78,"radius":6052.18},{"lat":45.80,"radius":6052.36},{"lat":45.95,"radius":6052.43},
      {"lat":46.11,"radius":6052.48},{"lat":46.33,"radius":6052.45},{"lat":46.55,"radius":6052.41},{"lat":46.82,"radius":6052.36},{"lat":47.10,"radius":6052.32},{"lat":47.38,"radius":6052.29},{"lat":47.66,"radius":6052.25},{"lat":47.94,"radius":6052.21},{"lat":48.21,"radius":6052.16},{"lat":48.43,"radius":6052.10},
      {"lat":48.65,"radius":6052.04},{"lat":48.84,"radius":6051.95},{"lat":49.02,"radius":6051.87},{"lat":49.25,"radius":6051.87},{"lat":49.54,"radius":6051.89},{"lat":49.87,"radius":6051.97},{"lat":50.19,"radius":6051.95},{"lat":50.38,"radius":6051.90},{"lat":50.57,"radius":6051.84},{"lat":50.95,"radius":6051.81},
      {"lat":51.34,"radius":6051.79},{"lat":51.73,"radius":6051.79},{"lat":52.12,"radius":6051.80},{"lat":52.40,"radius":6051.76},{"lat":52.69,"radius":6051.73},{"lat":52.98,"radius":6051.76},{"lat":53.27,"radius":6051.80},{"lat":53.56,"radius":6051.82},{"lat":53.85,"radius":6051.84},{"lat":54.10,"radius":6051.81},
      {"lat":54.33,"radius":6051.76},{"lat":54.43,"radius":6051.59},{"lat":54.67,"radius":6051.53},{"lat":54.91,"radius":6051.48},{"lat":55.25,"radius":6051.46},{"lat":55.59,"radius":6051.44},{"lat":55.92,"radius":6051.44},{"lat":56.26,"radius":6051.44},{"lat":56.60,"radius":6051.42},{"lat":56.94,"radius":6051.40},
      {"lat":57.22,"radius":6051.42},{"lat":57.51,"radius":6051.45},{"lat":57.71,"radius":6051.56},{"lat":57.90,"radius":6051.70},{"lat":58.09,"radius":6051.84},{"lat":58.30,"radius":6051.85},{"lat":58.48,"radius":6051.86},{"lat":58.67,"radius":6051.83},{"lat":58.86,"radius":6051.79},{"lat":59.02,"radius":6051.65},
      {"lat":59.11,"radius":6051.54},{"lat":59.25,"radius":6051.47},{"lat":59.63,"radius":6051.33},{"lat":59.82,"radius":6051.38},{"lat":60.02,"radius":6051.42},{"lat":60.30,"radius":6051.46},{"lat":60.60,"radius":6051.51},{"lat":60.88,"radius":6051.55},{"lat":61.17,"radius":6051.59},{"lat":61.40,"radius":6051.64},
      {"lat":61.66,"radius":6051.70},{"lat":61.80,"radius":6051.76},{"lat":61.95,"radius":6051.82},{"lat":62.30,"radius":6051.81},{"lat":62.72,"radius":6051.09},{"lat":63.00,"radius":6051.07},{"lat":63.30,"radius":6051.06},{"lat":63.60,"radius":6051.04},{"lat":63.87,"radius":6051.02},{"lat":64.15,"radius":6051.04},
      {"lat":64.45,"radius":6051.05},{"lat":64.70,"radius":6051.03},{"lat":64.93,"radius":6051.02},{"lat":65.15,"radius":6051.02},{"lat":65.32,"radius":6051.02},{"lat":65.42,"radius":6050.90},{"lat":65.51,"radius":6050.73},{"lat":65.65,"radius":6050.66},{"lat":65.80,"radius":6050.62},{"lat":66.00,"radius":6050.65},
      {"lat":66.19,"radius":6050.68},{"lat":66.48,"radius":6051.23},{"lat":66.63,"radius":6051.41},{"lat":66.86,"radius":6051.59},{"lat":67.05,"radius":6051.75},{"lat":67.15,"radius":6051.84},{"lat":67.35,"radius":6051.88},{"lat":67.53,"radius":6051.91},{"lat":67.78,"radius":6051.91},{"lat":68.02,"radius":6051.90},
      {"lat":68.26,"radius":6051.89},{"lat":68.50,"radius":6051.87},{"lat":68.70,"radius":6051.85},{"lat":68.89,"radius":6051.82},{"lat":69.08,"radius":6051.73},{"lat":69.18,"radius":6051.61},{"lat":69.23,"radius":6051.45},{"lat":69.31,"radius":6051.36},{"lat":69.47,"radius":6051.16},{"lat":69.65,"radius":6051.08},
      {"lat":69.85,"radius":6051.04},{"lat":70.14,"radius":6051.10},{"lat":70.43,"radius":6051.15},{"lat":70.72,"radius":6051.18},{"lat":71.01,"radius":6051.20},{"lat":71.30,"radius":6051.25},{"lat":71.58,"radius":6051.29},{"lat":71.87,"radius":6051.25},{"lat":72.16,"radius":6051.20},{"lat":72.35,"radius":6051.18},
      {"lat":72.55,"radius":6051.16},{"lat":72.74,"radius":6051.21},{"lat":72.93,"radius":6051.27},{"lat":73.08,"radius":6051.34},{"lat":73.22,"radius":6051.40},{"lat":73.42,"radius":6051.51},{"lat":73.66,"radius":6051.52},{"lat":73.90,"radius":6051.52},{"lat":74.10,"radius":6051.55},{"lat":74.28,"radius":6051.57},
      {"lat":74.47,"radius":6051.58},{"lat":74.67,"radius":6051.59},{"lat":74.86,"radius":6051.62},{"lat":75.05,"radius":6051.65},{"lat":75.34,"radius":6051.67},{"lat":75.63,"radius":6051.69},{"lat":75.92,"radius":6051.69},{"lat":76.21,"radius":6051.68},{"lat":76.40,"radius":6051.62},{"lat":76.59,"radius":6051.56},
      {"lat":76.79,"radius":6051.40},{"lat":76.98,"radius":6051.26},{"lat":77.13,"radius":6051.19},{"lat":77.27,"radius":6051.12},{"lat":77.60,"radius":6050.94},{"lat":78.00,"radius":6050.89},{"lat":78.30,"radius":6050.89},{"lat":78.60,"radius":6050.94},{"lat":78.95,"radius":6050.98},{"lat":79.30,"radius":6050.94},
      {"lat":79.62,"radius":6050.90},{"lat":79.95,"radius":6050.86},{"lat":80.28,"radius":6050.83},{"lat":80.60,"radius":6050.84},{"lat":80.94,"radius":6050.84},{"lat":81.83,"radius":6052.05},{"lat":82.05,"radius":6052.08},{"lat":82.27,"radius":6052.11},{"lat":82.60,"radius":6052.09},{"lat":83.05,"radius":6050.90},
      {"lat":83.32,"radius":6050.90},{"lat":83.60,"radius":6050.90},{"lat":83.88,"radius":6050.93},{"lat":84.15,"radius":6050.96},{"lat":84.43,"radius":6050.99},{"lat":84.71,"radius":6051.01},{"lat":85.04,"radius":6051.04},{"lat":85.37,"radius":6051.07},
      {"lat":-52.25,"radius":6051.33},{"lat":-52.14,"radius":6051.37},{"lat":-52.20,"radius":6051.25},{"lat":-50.70,"radius":6050.79},{"lat":-50.30,"radius":6051.15},{"lat":-48.60,"radius":6051.27},{"lat":-48.60,"radius":6051.19},{"lat":-49.15,"radius":6050.85},{"lat":-47.94,"radius":6050.92},{"lat":-47.16,"radius":6050.88},
      {"lat":-45.44,"radius":6051.06},{"lat":-45.50,"radius":6050.94},{"lat":-45.94,"radius":6050.72},{"lat":-44.95,"radius":6050.53},{"lat":-44.84,"radius":6050.67},{"lat":-43.73,"radius":6051.05},{"lat":-38.97,"radius":6051.52},{"lat":-36.76,"radius":6052.16},{"lat":-36.21,"radius":6051.70},{"lat":-34.33,"radius":6051.27},
      {"lat":-32.78,"radius":6051.35},{"lat":-31.56,"radius":6051.34},{"lat":-29.90,"radius":6051.80},{"lat":-29.46,"radius":6051.70},{"lat":-28.57,"radius":6052.16},{"lat":-27.80,"radius":6052.33},{"lat":-27.58,"radius":6052.08},{"lat":-26.69,"radius":6052.41},{"lat":-25.70,"radius":6052.59},{"lat":-25.37,"radius":6052.50},
      {"lat":-25.59,"radius":6052.05},{"lat":-24.04,"radius":6052.16},{"lat":-23.71,"radius":6052.44},{"lat":-23.15,"radius":6052.38},{"lat":-22.49,"radius":6051.94},{"lat":-22.60,"radius":6051.86},{"lat":-22.55,"radius":6051.76},{"lat":-23.04,"radius":6051.58},{"lat":-22.85,"radius":6051.62},{"lat":-21.93,"radius":6052.01},
      {"lat":-21.38,"radius":6052.30},{"lat":-20.72,"radius":6051.77},{"lat":-20.39,"radius":6051.87},{"lat":-19.61,"radius":6052.36},{"lat":-19.28,"radius":6051.48},{"lat":-15.79,"radius":6051.69},{"lat":-15.30,"radius":6052.13},{"lat":-14.51,"radius":6051.56},{"lat":-14.84,"radius":6050.88},{"lat":-12.36,"radius":6052.76},
      {"lat":-12.20,"radius":6052.69},{"lat":-12.15,"radius":6052.60},{"lat":-11.25,"radius":6052.36},{"lat":-9.93,"radius":6051.15},{"lat":-9.82,"radius":6051.44},{"lat":-9.15,"radius":6052.20},{"lat":-9.04,"radius":6052.08},{"lat":-6.50,"radius":6051.54},{"lat":-4.95,"radius":6052.36},{"lat":-4.90,"radius":6052.28},
      {"lat":-3.40,"radius":6052.43},{"lat":-2.29,"radius":6052.29},{"lat":-0.96,"radius":6052.29},{"lat":-1.41,"radius":6052.02},{"lat":3.57,"radius":6052.26},{"lat":4.57,"radius":6051.63},{"lat":4.52,"radius":6051.37},{"lat":4.55,"radius":6051.55},{"lat":5.34,"radius":6051.93},{"lat":6.12,"radius":6052.56},
      {"lat":10.98,"radius":6052.58},{"lat":10.90,"radius":6052.36},{"lat":11.98,"radius":6053.34},{"lat":11.98,"radius":6053.19},{"lat":12.05,"radius":6053.05},{"lat":12.31,"radius":6052.83},{"lat":12.98,"radius":6052.97},{"lat":11.65,"radius":6050.62},{"lat":11.10,"radius":6050.41},{"lat":11.25,"radius":6049.96},
      {"lat":13.53,"radius":6051.91},{"lat":13.42,"radius":6051.59},{"lat":14.42,"radius":6052.55},{"lat":16.13,"radius":6051.30},{"lat":16.15,"radius":6051.40},{"lat":16.13,"radius":6051.49},{"lat":18.24,"radius":6053.58},{"lat":18.35,"radius":6053.43},{"lat":19.01,"radius":6053.37},{"lat":19.12,"radius":6053.18},
      {"lat":19.34,"radius":6052.95},{"lat":18.46,"radius":6051.87},{"lat":18.90,"radius":6051.54},{"lat":20.01,"radius":6050.58},{"lat":20.07,"radius":6051.99},{"lat":19.90,"radius":6052.09},{"lat":20.34,"radius":6051.62},{"lat":21.11,"radius":6053.07},{"lat":22.55,"radius":6051.34},{"lat":22.50,"radius":6051.42},
      {"lat":26.09,"radius":6052.98},{"lat":29.68,"radius":6052.79},{"lat":29.70,"radius":6052.62},{"lat":31.29,"radius":6052.59},{"lat":31.20,"radius":6052.52},{"lat":38.81,"radius":6053.30},{"lat":39.48,"radius":6053.30},{"lat":40.25,"radius":6052.63},{"lat":40.70,"radius":6053.05},{"lat":41.25,"radius":6053.15},
      {"lat":43.13,"radius":6053.12},{"lat":44.79,"radius":6051.90},{"lat":44.79,"radius":6051.26},{"lat":44.68,"radius":6051.08},{"lat":44.35,"radius":6052.54},{"lat":44.79,"radius":6052.62},{"lat":46.12,"radius":6052.91},{"lat":46.23,"radius":6052.75},{"lat":46.23,"radius":6052.65},{"lat":47.22,"radius":6052.50},
      {"lat":49.55,"radius":6052.30},{"lat":49.66,"radius":6052.16},{"lat":49.11,"radius":6051.83},{"lat":49.75,"radius":6052.10},{"lat":52.59,"radius":6051.65},{"lat":54.14,"radius":6051.95},{"lat":54.33,"radius":6051.42},{"lat":56.45,"radius":6051.40},{"lat":58.47,"radius":6052.02},{"lat":59.53,"radius":6051.09},
      {"lat":59.63,"radius":6051.60},{"lat":60.98,"radius":6051.42},{"lat":61.75,"radius":6052.02},{"lat":61.90,"radius":6051.93},{"lat":62.50,"radius":6055.47},{"lat":62.71,"radius":6050.98},{"lat":63.58,"radius":6050.85},{"lat":63.48,"radius":6050.76},{"lat":64.26,"radius":6051.38},{"lat":64.20,"radius":6051.32},
      {"lat":65.32,"radius":6051.76},{"lat":65.25,"radius":6051.70},{"lat":64.83,"radius":6051.13},{"lat":65.51,"radius":6050.53},{"lat":65.60,"radius":6050.41},{"lat":65.64,"radius":6050.31},{"lat":66.18,"radius":6050.62},{"lat":66.38,"radius":6051.63},{"lat":66.66,"radius":6051.26},{"lat":67.43,"radius":6052.01},
      {"lat":68.40,"radius":6052.13},{"lat":68.45,"radius":6052.03},{"lat":68.11,"radius":6051.77},{"lat":69.65,"radius":6051.01},{"lat":72.54,"radius":6051.00},{"lat":72.45,"radius":6051.13},{"lat":73.51,"radius":6052.11},{"lat":74.57,"radius":6052.19},{"lat":74.66,"radius":6052.08},{"lat":73.60,"radius":6051.91},
      {"lat":74.37,"radius":6050.85},{"lat":74.18,"radius":6051.05},{"lat":74.25,"radius":6050.98},{"lat":75.63,"radius":6051.86},{"lat":75.20,"radius":6051.60},{"lat":77.97,"radius":6050.73},{"lat":78.30,"radius":6050.59},{"lat":78.52,"radius":6050.46},{"lat":78.08,"radius":6049.98},{"lat":78.19,"radius":6052.56},
      {"lat":78.96,"radius":6051.17},{"lat":79.10,"radius":6051.08},{"lat":80.62,"radius":6050.76},{"lat":79.63,"radius":6050.80},{"lat":82.28,"radius":6052.31},{"lat":82.00,"radius":6052.24},{"lat":82.95,"radius":6050.80},{"lat":85.38,"radius":6050.83}
    ]
  },
  "resolve": {"axis": {"x": "independent", "y": "independent"}},
  "layer": [
    {
      "data": {"name": "raw"},
      "transform": [{"filter": "datum.lat < 15"}],
      "mark": {"type": "point", "filled": true, "shape": "circle", "size": 95, "color": "black", "opacity": 1, "strokeWidth": 0},
      "encoding": {
        "x": {
          "field": "lat", "type": "quantitative",
          "scale": {"domain": [-90, 90], "nice": false, "zero": false},
          "axis": {"orient": "bottom", "values": [-90, -60, -30, 0, 30, 60, 90], "tickSize": -113, "labelPadding": 131, "labelExpr": "'' + datum.value", "title": "Latitude, deg", "titleBaseline": "alphabetic", "titleY": 160}
        },
        "y": {
          "field": "radius", "type": "quantitative",
          "scale": {"domain": [6045, 6065], "nice": false, "zero": false},
          "axis": {"orient": "left", "values": [6045, 6050, 6055, 6060, 6065], "tickSize": -113, "labelPadding": 157, "labelExpr": "'' + datum.value", "title": "Radius, km", "titleBaseline": "alphabetic", "titleX": -282}
        }
      }
    },
    {
      "data": {"name": "raw"},
      "transform": [{"filter": "datum.lat >= 15"}],
      "mark": {"type": "point", "filled": true, "shape": "circle", "size": 95, "color": "black", "opacity": 1, "strokeWidth": 0},
      "encoding": {
        "x": {
          "field": "lat", "type": "quantitative",
          "scale": {"domain": [-90, 90], "nice": false, "zero": false},
          "axis": {"orient": "top", "values": [-90, -60, -30, 0, 30, 60, 90], "tickSize": -113, "labels": false, "title": null}
        },
        "y": {
          "field": "radius", "type": "quantitative",
          "scale": {"domain": [6045, 6065], "nice": false, "zero": false},
          "axis": {"orient": "right", "values": [6045, 6050, 6055, 6060, 6065], "tickSize": -113, "labels": false, "title": null}
        }
      }
    },
    {
      "data": {"name": "smooth"},
      "transform": [{"filter": "datum.lat < 15"}],
      "mark": {"type": "point", "filled": true, "shape": "circle", "size": 120, "color": "#ff0000", "opacity": 1, "strokeWidth": 0},
      "encoding": {
        "x": {
          "field": "lat", "type": "quantitative",
          "scale": {"domain": [-90, 90], "nice": false, "zero": false},
          "axis": {"orient": "bottom", "values": [-85, -80, -75, -70, -65, -55, -50, -45, -40, -35, -25, -20, -15, -10, -5, 5, 10, 15, 20, 25, 35, 40, 45, 50, 55, 65, 70, 75, 80, 85], "tickSize": -57, "labels": false, "title": null}
        },
        "y": {
          "field": "radius", "type": "quantitative",
          "scale": {"domain": [6045, 6065], "nice": false, "zero": false},
          "axis": {"orient": "left", "values": [6046, 6047, 6048, 6049, 6051, 6052, 6053, 6054, 6056, 6057, 6058, 6059, 6061, 6062, 6063, 6064], "tickSize": -57, "labels": false, "title": null}
        }
      }
    },
    {
      "data": {"name": "smooth"},
      "transform": [{"filter": "datum.lat >= 15"}],
      "mark": {"type": "point", "filled": true, "shape": "circle", "size": 120, "color": "#ff0000", "opacity": 1, "strokeWidth": 0},
      "encoding": {
        "x": {
          "field": "lat", "type": "quantitative",
          "scale": {"domain": [-90, 90], "nice": false, "zero": false},
          "axis": {"orient": "top", "values": [-85, -80, -75, -70, -65, -55, -50, -45, -40, -35, -25, -20, -15, -10, -5, 5, 10, 15, 20, 25, 35, 40, 45, 50, 55, 65, 70, 75, 80, 85], "tickSize": -57, "labels": false, "title": null}
        },
        "y": {
          "field": "radius", "type": "quantitative",
          "scale": {"domain": [6045, 6065], "nice": false, "zero": false},
          "axis": {"orient": "right", "values": [6046, 6047, 6048, 6049, 6051, 6052, 6053, 6054, 6056, 6057, 6058, 6059, 6061, 6062, 6063, 6064], "tickSize": -57, "labels": false, "title": null}
        }
      }
    }
  ]
}
